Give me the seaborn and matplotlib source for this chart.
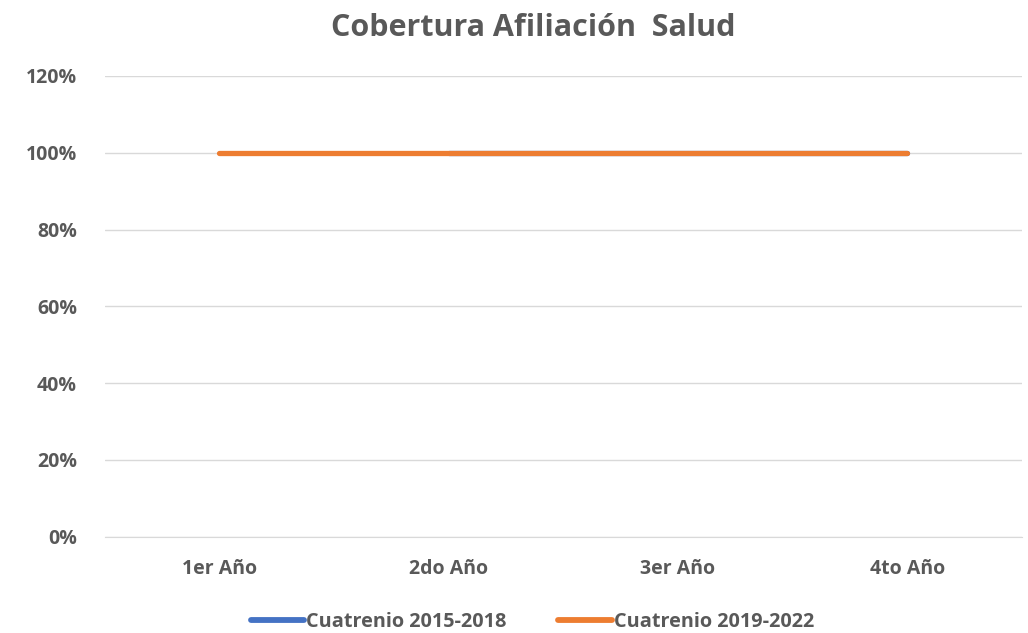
import numpy as np
import pandas as pd
import matplotlib
matplotlib.use("Agg")
import matplotlib.pyplot as plt
import seaborn as sns
from matplotlib.ticker import PercentFormatter

# data
years = ["1er Año", "2do Año", "3er Año", "4to Año"]
cuatrenio_2015 = [np.nan, 1.0, 1.0, 1.0]
cuatrenio_2019 = [1.0, 1.0, 1.0, 1.0]
series_names = ["Cuatrenio 2015-2018", "Cuatrenio 2019-2022"]

df = pd.DataFrame({
    "Año": years * 2,
    "Cobertura": cuatrenio_2015 + cuatrenio_2019,
    "Serie": [series_names[0]] * 4 + [series_names[1]] * 4,
})

sns.set_style("white")
plt.rcParams["font.family"] = ["Open Sans", "DejaVu Sans"]

grey = "#595959"
colors = {series_names[0]: "#4472C4", series_names[1]: "#ED7D31"}

fig = plt.figure(figsize=(10.28, 6.33), dpi=100)
ax = fig.add_axes([0.102, 0.152, 0.892, 0.728])

sns.lineplot(data=df, x="Año", y="Cobertura", hue="Serie", palette=colors,
             linewidth=3.8, sort=False, ax=ax, legend=False,
             solid_capstyle="round")

ax.set_xlim(-0.5, 3.5)
ax.set_ylim(0, 1.2)
ax.set_yticks(np.arange(0, 1.21, 0.2))
ax.yaxis.set_major_formatter(PercentFormatter(1.0, decimals=0))
ax.grid(axis="y", color="#D9D9D9", linewidth=1)
ax.set_axisbelow(True)
for s in ["top", "right", "left"]:
    ax.spines[s].set_visible(False)
ax.spines["bottom"].set_color("#D9D9D9")
ax.tick_params(axis="y", length=0, colors=grey, labelsize=14, pad=20)
ax.tick_params(axis="x", length=0, colors=grey, labelsize=14, pad=16)
for lbl in ax.get_xticklabels() + ax.get_yticklabels():
    lbl.set_fontweight("bold")
ax.set_xlabel("")
ax.set_ylabel("")

fig.suptitle("Cobertura Afiliación  Salud", x=0.519, y=0.98, fontsize=22,
             fontweight="bold", color=grey)

handles = [plt.Line2D([], [], color=colors[n], linewidth=4.2, solid_capstyle="round")
           for n in series_names]
leg = fig.legend(handles, series_names, loc="center", bbox_to_anchor=(0.518, 0.018),
                 ncol=2, frameon=False, handlelength=2.7, handletextpad=0.1,
                 columnspacing=2.6, prop={"weight": "bold", "size": 14.3})
for t in leg.get_texts():
    t.set_color(grey)

fig.savefig("out.png", dpi=100)
